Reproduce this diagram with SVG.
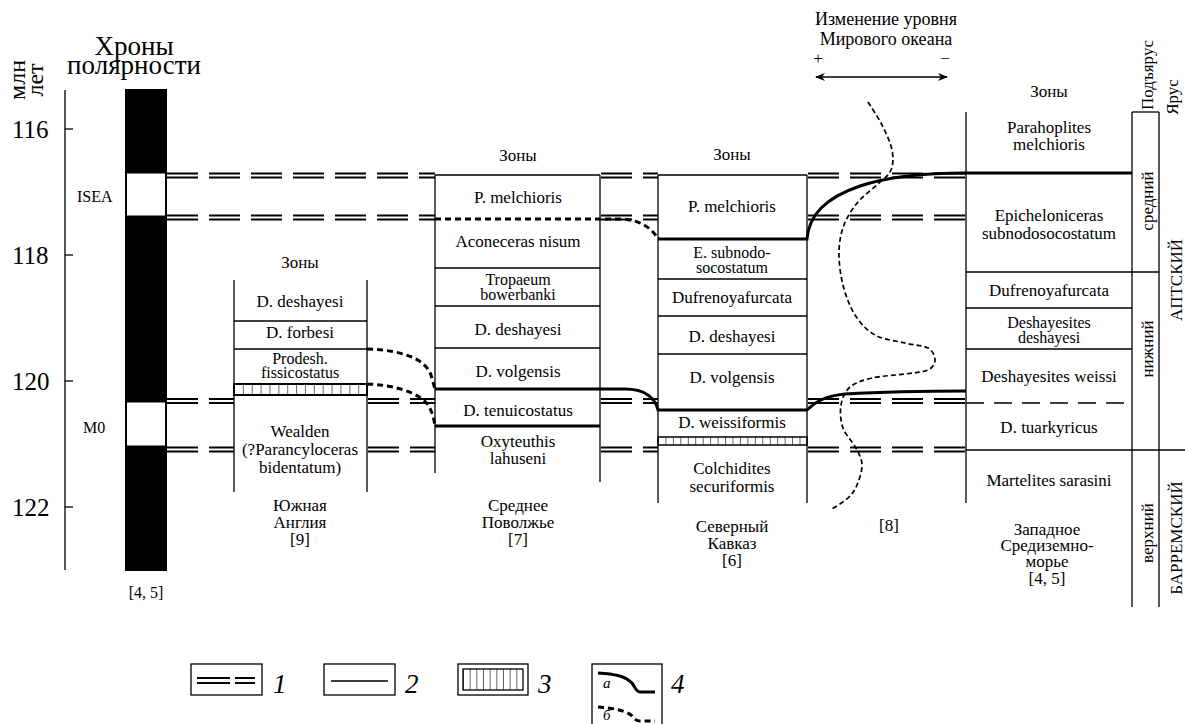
<svg xmlns="http://www.w3.org/2000/svg" width="1185" height="724" viewBox="0 0 1185 724" font-family="'Liberation Serif','Times New Roman',serif">
<style>
text{font-family:"Liberation Serif","Times New Roman",serif;fill:#000}
.z{font-size:17px;text-anchor:middle}
.z2{font-size:16px;text-anchor:middle}
.t{stroke:#000;stroke-width:1.3;fill:none}
.th{stroke:#000;stroke-width:3;fill:none}
.dbl{stroke:#000;stroke-width:1.8;stroke-dasharray:31 11;fill:none}
.dot{stroke:#000;stroke-width:3;stroke-dasharray:6 4;fill:none}
.sea{stroke:#000;stroke-width:1.7;stroke-dasharray:5 3;fill:none}
.ax{font-size:25px;text-anchor:start}
.rot{font-size:17px;text-anchor:middle}
.leg{font-size:27px;font-style:italic}
</style>
<defs>
<pattern id="hE" x="234" y="0" width="8.87" height="20" patternUnits="userSpaceOnUse"><line x1="0" y1="0" x2="0" y2="20" stroke="#000" stroke-width="1.2"/></pattern>
<pattern id="hC" x="658" y="0" width="7.45" height="20" patternUnits="userSpaceOnUse"><line x1="0" y1="0" x2="0" y2="20" stroke="#000" stroke-width="1.2"/></pattern>
<pattern id="hL" x="463" y="0" width="6.67" height="30" patternUnits="userSpaceOnUse"><line x1="0" y1="0" x2="0" y2="30" stroke="#000" stroke-width="1.2"/></pattern>
<marker id="ar" viewBox="0 0 10 8" refX="9" refY="4" markerWidth="10" markerHeight="8" markerUnits="userSpaceOnUse" orient="auto-start-reverse"><path d="M0,0 L10,4 L0,8 L3,4 z" fill="#000"/></marker>
</defs>

<!-- Axis -->
<g id="axis">
<line class="t" x1="65" y1="90" x2="65" y2="570"/>
<line class="t" x1="65" y1="129" x2="73" y2="129"/>
<line class="t" x1="65" y1="255" x2="73" y2="255"/>
<line class="t" x1="65" y1="381" x2="73" y2="381"/>
<line class="t" x1="65" y1="507" x2="73" y2="507"/>
<text class="ax" x="12" y="138">116</text>
<text class="ax" x="12" y="264">118</text>
<text class="ax" x="12" y="390">120</text>
<text class="ax" x="12" y="516">122</text>
<text font-size="24" text-anchor="middle" transform="translate(25,80) rotate(-90)">млн</text>
<text font-size="24" text-anchor="middle" transform="translate(43,80) rotate(-90)">лет</text>
</g>

<!-- Polarity chrons -->
<g id="polarity">
<text font-size="27" text-anchor="middle" x="134" y="55">Хроны</text>
<text font-size="27" text-anchor="middle" x="134" y="74">полярности</text>
<rect x="125.5" y="89.5" width="41" height="481" fill="#000" stroke="#000"/>
<rect x="126.5" y="173" width="39" height="43" fill="#fff" stroke="#000" stroke-width="1"/>
<rect x="126.5" y="402" width="39" height="44" fill="#fff" stroke="#000" stroke-width="1"/>
<text font-size="16" x="77" y="202">ISEA</text>
<text font-size="16" x="83" y="433">M0</text>
<text font-size="16" text-anchor="middle" x="146" y="598">[4, 5]</text>
</g>

<!-- Correlation lines -->
<g id="connectors">
<g class="dbl">
<path d="M167,173.5 H435 M167,177.5 H435 M601,173.5 H658 M601,177.5 H658 M808,173.5 H966 M808,177.5 H966"/>
<path d="M167,215.5 H435 M167,219.5 H435 M601,215.5 H658 M601,219.5 H658 M808,215.5 H966 M808,219.5 H966"/>
<path d="M167,399 H234 M167,403 H234 M368,399 H435 M368,403 H435 M601,399 H658 M601,403 H658 M808,399 H966 M808,403 H966"/>
<path d="M167,447.5 H234 M167,451.5 H234 M368,447.5 H435 M368,451.5 H435 M601,447.5 H658 M601,451.5 H658 M808,447.5 H966 M808,451.5 H966"/>
</g>
<path class="th" d="M658,239 H807 C809,215 825,198 860,186 C890,176 930,173 966,173 H1132"/>
<path class="th" d="M435,389 H625 C645,389 655,398 658,410 H807 C815,402 825,396 845,394 C880,392 930,391 966,391"/>
<path class="dot" d="M435,219 H622 C640,220 652,228 658,239"/>
<path class="dot" d="M367,349 C400,350 425,358 431,375 L435,389"/>
<path class="dot" d="M367,384 C395,385 420,393 428,405 C433,413 434,420 435,426"/>
</g>

<!-- South England -->
<g id="england">
<text class="z" x="300" y="268">Зоны</text>
<line class="t" x1="234" y1="280" x2="234" y2="492"/>
<line class="t" x1="367" y1="280" x2="367" y2="492"/>
<line class="t" x1="234" y1="321" x2="367" y2="321"/>
<line class="t" x1="234" y1="349" x2="367" y2="349" stroke-width="2.5"/>
<rect x="234" y="384" width="133" height="11" fill="url(#hE)" stroke="#000" stroke-width="2"/>
<text class="z" x="300" y="307">D. deshayesi</text>
<text class="z" x="300" y="338">D. forbesi</text>
<text class="z2" x="300" y="364">Prodesh.</text>
<text class="z2" x="300" y="378">fissicostatus</text>
<text class="z" x="300" y="437">Wealden</text>
<text class="z" x="300" y="455">(?Parancyloceras</text>
<text class="z" x="300" y="473">bidentatum)</text>
<text class="z" x="300" y="511">Южная</text>
<text class="z" x="300" y="528">Англия</text>
<text class="z" x="300" y="545">[9]</text>
</g>

<!-- Middle Volga -->
<g id="volga">
<text class="z" x="518" y="161">Зоны</text>
<line class="t" x1="435" y1="175" x2="435" y2="473"/>
<line class="t" x1="600" y1="175" x2="600" y2="482"/>
<line class="t" x1="435" y1="175" x2="600" y2="175"/>
<line class="t" x1="435" y1="268" x2="600" y2="268"/>
<line class="t" x1="435" y1="306" x2="600" y2="306"/>
<line class="t" x1="435" y1="348" x2="600" y2="348"/>
<line class="th" x1="435" y1="426" x2="600" y2="426"/>
<text class="z" x="518" y="203">P. melchioris</text>
<text class="z" x="518" y="247">Aconeceras nisum</text>
<text class="z2" x="518" y="285">Tropaeum</text>
<text class="z2" x="518" y="300">bowerbanki</text>
<text class="z" x="518" y="335">D. deshayesi</text>
<text class="z" x="518" y="377">D. volgensis</text>
<text class="z" x="518" y="416">D. tenuicostatus</text>
<text class="z" x="518" y="447">Oxyteuthis</text>
<text class="z" x="518" y="464">lahuseni</text>
<text class="z" x="518" y="511">Среднее</text>
<text class="z" x="518" y="528">Поволжье</text>
<text class="z" x="518" y="545">[7]</text>
</g>

<!-- North Caucasus -->
<g id="caucasus">
<text class="z" x="732" y="160">Зоны</text>
<line class="t" x1="658" y1="175" x2="658" y2="503"/>
<line class="t" x1="807" y1="175" x2="807" y2="503"/>
<line class="t" x1="658" y1="175" x2="807" y2="175"/>
<line class="t" x1="658" y1="279" x2="807" y2="279"/>
<line class="t" x1="658" y1="316" x2="807" y2="316"/>
<line class="t" x1="658" y1="354" x2="807" y2="354"/>
<rect x="658" y="437" width="149" height="8" fill="url(#hC)" stroke="#000" stroke-width="1.5"/>
<text class="z" x="732" y="212">P. melchioris</text>
<text class="z2" x="732" y="258">E. subnodo-</text>
<text class="z2" x="732" y="273">socostatum</text>
<text class="z" x="732" y="303">Dufrenoyafurcata</text>
<text class="z" x="732" y="342">D. deshayesi</text>
<text class="z" x="732" y="383">D. volgensis</text>
<text class="z" x="732" y="428">D. weissiformis</text>
<text class="z" x="732" y="474">Colchidites</text>
<text class="z" x="732" y="492">securiformis</text>
<text class="z" x="732" y="532">Северный</text>
<text class="z" x="732" y="549">Кавказ</text>
<text class="z" x="732" y="566">[6]</text>
</g>

<!-- Sea level -->
<g id="sealevel">
<text font-size="18" text-anchor="middle" x="886" y="25">Изменение уровня</text>
<text font-size="18" text-anchor="middle" x="886" y="45">Мирового океана</text>
<text class="z" x="818" y="64">+</text>
<text class="z" x="945" y="64">−</text>
<line x1="816" y1="77" x2="947" y2="77" stroke="#000" stroke-width="1.5" marker-start="url(#ar)" marker-end="url(#ar)"/>
<path class="sea" d="M868,102 C870.3,105.8 878,117 882,125 C886,133 890.5,142.5 892,150 C893.5,157.5 893.3,164.3 891,170 C888.7,175.7 883.5,178.7 878,184 C872.5,189.3 863.7,195.2 858,202 C852.3,208.8 847.2,216.7 844,225 C840.8,233.3 839.2,242 839,252 C838.8,262 840.3,274.5 843,285 C845.7,295.5 849.7,306.7 855,315 C860.3,323.3 866.7,330.3 875,335 C883.3,339.7 896.2,340.8 905,343 C913.8,345.2 923,345.2 928,348 C933,350.8 935,356.3 935,360 C935,363.7 933,367.7 928,370 C923,372.3 914.3,372.7 905,374 C895.7,375.3 881.2,375.8 872,378 C862.8,380.2 855.2,382.5 850,387 C844.8,391.5 842.2,398.2 841,405 C839.8,411.8 840.5,420.8 843,428 C845.5,435.2 852.8,441.8 856,448 C859.2,454.2 861.8,458.8 862,465 C862.2,471.2 859.3,479.5 857,485 C854.7,490.5 852.2,494 848,498 C843.8,502 834.7,507.2 832,509"/>
<text class="z" x="889" y="531">[8]</text>
</g>

<!-- Western Mediterranean -->
<g id="mediterranean">
<text class="z" x="1049" y="97">Зоны</text>
<line class="t" x1="966" y1="112" x2="966" y2="503"/>
<line class="t" x1="1132" y1="112" x2="1132" y2="607"/>
<line class="t" x1="1159" y1="112" x2="1159" y2="607"/>
<line class="t" x1="1132" y1="112" x2="1159" y2="112"/>
<line class="t" x1="966" y1="272" x2="1159" y2="272"/>
<line class="t" x1="966" y1="308" x2="1132" y2="308"/>
<line class="t" x1="966" y1="349" x2="1132" y2="349"/>
<line x1="966" y1="403" x2="1130" y2="403" stroke="#000" stroke-width="1.3" stroke-dasharray="18 10"/>
<line class="t" x1="966" y1="450" x2="1185" y2="450"/>
<text class="z" x="1049" y="133">Parahoplites</text>
<text class="z" x="1049" y="150">melchioris</text>
<text class="z" x="1049" y="221">Epicheloniceras</text>
<text class="z" x="1049" y="239">subnodosocostatum</text>
<text class="z" x="1049" y="296">Dufrenoyafurcata</text>
<text class="z2" x="1049" y="328">Deshayesites</text>
<text class="z2" x="1049" y="343">deshayesi</text>
<text class="z" x="1049" y="382">Deshayesites weissi</text>
<text class="z" x="1049" y="433">D. tuarkyricus</text>
<text class="z" x="1049" y="486">Martelites sarasini</text>
<text class="z" x="1047" y="535">Западное</text>
<text class="z" x="1047" y="551">Средиземно-</text>
<text class="z" x="1047" y="567">морье</text>
<text class="z" x="1047" y="584">[4, 5]</text>
</g>

<!-- Substages and stages -->
<g id="stages">
<text class="rot" transform="translate(1153,75) rotate(-90)">Подъярус</text>
<text class="rot" transform="translate(1178,97) rotate(-90)">Ярус</text>
<text class="rot" transform="translate(1153,201) rotate(-90)">средний</text>
<text class="rot" transform="translate(1153,349) rotate(-90)">нижний</text>
<text class="rot" transform="translate(1153,533) rotate(-90)">верхний</text>
<text class="rot" font-size="20" transform="translate(1182,280) rotate(-90)">АПТСКИЙ</text>
<text class="rot" font-size="20" transform="translate(1182,538) rotate(-90)">БАРРЕМСКИЙ</text>
</g>

<!-- Legend -->
<g id="legend1">
<rect class="t" x="191" y="664" width="71" height="31"/>
<path stroke="#000" stroke-width="2" d="M197,678 H230 M197,683 H230 M235,678 H255 M235,683 H255"/>
<text class="leg" x="273" y="693">1</text>
</g>
<g id="legend2">
<rect class="t" x="324" y="664" width="71" height="31"/>
<line class="t" x1="331" y1="681" x2="388" y2="681"/>
<text class="leg" x="405" y="693">2</text>
</g>
<g id="legend3">
<rect class="t" x="458" y="664" width="70" height="31"/>
<rect x="463" y="669" width="60" height="21" fill="url(#hL)" stroke="#000" stroke-width="1.3"/>
<text class="leg" x="538" y="693">3</text>
</g>
<g id="legend4">
<rect class="t" x="592" y="664" width="70" height="70"/>
<path class="th" d="M598,673 C615,674 625,676 632,683 C635,687 636,692 640,692 H655"/>
<path class="dot" d="M598,707 C612,708 624,710 631,715 C634,718 636,721 640,721 H655"/>
<text font-size="15" font-style="italic" x="603" y="688">a</text>
<text font-size="15" font-style="italic" x="603" y="720">б</text>
<text class="leg" x="671" y="693">4</text>
</g>
</svg>
